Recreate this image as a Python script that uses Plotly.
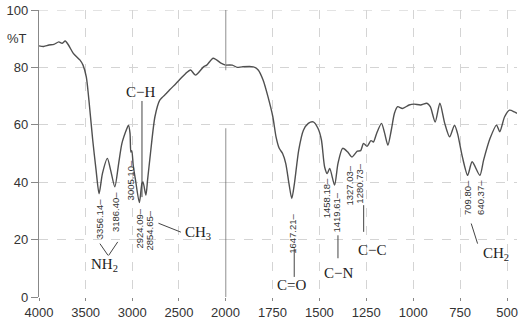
import plotly.graph_objects as go

# ---- data (wavenumber cm-1, transmittance %T) ----
wavenumber = [4000, 3950, 3893, 3840, 3788, 3753, 3719, 3684, 3632, 3562, 3528, 3493, 3458, 3424,
              3388, 3356, 3320, 3267, 3232, 3187, 3146, 3111, 3060, 3041, 3024, 3015, 3005, 2990,
              2965, 2924, 2896, 2885, 2854, 2836, 2809, 2757, 2705, 2635, 2601, 2531, 2479, 2427,
              2375, 2322, 2236, 2201, 2132, 2044, 2000,
              1964, 1938, 1912, 1852, 1826, 1800, 1774, 1748, 1731, 1714, 1696, 1679, 1662, 1647,
              1633, 1610, 1585, 1559, 1533, 1507, 1489, 1472, 1458, 1445, 1419, 1401, 1376, 1350,
              1327, 1298, 1280, 1265, 1246, 1225, 1212, 1195, 1169, 1152, 1135, 1117, 1100, 1083,
              1057, 1022, 996, 961, 927, 909, 883, 858, 832, 806, 780, 764, 738, 710, 686, 645,
              625, 591, 556, 539, 513, 487, 461, 447]
transmittance = [87.5, 87.3, 87.8, 88.0, 88.9, 88.4, 89.2, 87.8, 84.9, 82.6, 80.8, 76.7, 66.3, 54.7,
                 44.2, 36.0, 43.0, 48.3, 44.2, 38.4, 46.5, 53.5, 58.5, 59.9, 57.0, 50.5, 51.0, 46.0,
                 40.7, 32.9, 39.6, 40.1, 35.5, 40.7, 48.8, 62.8, 68.6, 70.9, 72.1, 74.4, 76.2, 77.9,
                 79.1, 77.3, 80.2, 80.8, 83.2, 81.4, 80.8,
                 80.8, 80.0, 80.2, 80.2, 79.1, 75.6, 69.8, 62.8, 55.8, 51.8, 50.0, 46.5, 39.5, 34.3,
                 39.5, 51.2, 58.1, 60.5, 61.0, 58.7, 54.7, 45.3, 43.0, 44.8, 39.0, 46.5, 51.8, 50.6,
                 48.8, 50.8, 51.0, 53.5, 52.5, 54.5, 54.0, 57.0, 60.5, 57.0, 52.9, 58.1, 64.0, 66.3,
                 65.7, 66.9, 67.2, 66.9, 67.5, 66.3, 61.0, 67.5, 60.5, 55.8, 59.9, 57.0, 48.8, 42.4,
                 47.1, 42.4, 47.7, 55.2, 59.9, 57.6, 62.8, 65.1, 64.5, 64.0]

left_ticks = [4000, 3500, 3000, 2500, 2000]
right_ticks = [1750, 1500, 1250, 1000, 750, 500]
y_ticks = [0, 20, 40, 60, 80, 100]

# peak labels: (text, wavenumber position, top %T)
peak_labels = [("3356.14", 3356, 34.8), ("3186.40", 3187, 37.2), ("3005.10", 3021, 48.4),
               ("2924.09", 2920, 31.4), ("2854.65", 2818, 30.9),
               ("1647.21", 1643, 29.5), ("1458.18", 1462, 41.9), ("1419.61", 1410, 37.2),
               ("1327.03", 1341, 46.6), ("1280.73", 1286, 47.0),
               ("709.80", 712, 41.4), ("640.37", 643, 41.4)]

# group labels: (text, wavenumber, %T)
group_labels = [("C\u2212H", 2913, 71.4), ("NH<sub>2</sub>", 3302, 11.1), ("CH<sub>3</sub>", 2292, 22.2),
                ("C=O", 1647, 4.1), ("C\u2212N", 1396, 8.4), ("C\u2212C", 1220, 16.3),
                ("CH<sub>2</sub>", 557, 15.1)]

# pointer lines: (wn0, T0, wn1, T1)
pointer_lines = [(2896, 68.3, 2896, 34.8),
                 (3347, 18.6, 3260, 14.5), (3156, 19.2, 3253, 14.5),
                 (2719, 25.7, 2479, 22.6),
                 (1634, 16.9, 1634, 7.0), (1401, 21.5, 1401, 13.5), (1264, 32.0, 1264, 22.7),
                 (691, 25.6, 657, 18.6)]

SPLIT = 2000
RIGHT_END = 447

def axref(w):
    return "x" if w > SPLIT else "x2"

left_w = [w for w in wavenumber if w >= SPLIT]
left_t = [t for w, t in zip(wavenumber, transmittance) if w >= SPLIT]
right_w = [w for w in wavenumber if w <= SPLIT]
right_t = [t for w, t in zip(wavenumber, transmittance) if w <= SPLIT]

line_style = dict(color="#505050", width=1.4, shape="spline", smoothing=0.7)
fig = go.Figure()
fig.add_trace(go.Scatter(x=left_w, y=left_t, mode="lines", line=line_style, xaxis="x", yaxis="y",
                         hoverinfo="skip"))
fig.add_trace(go.Scatter(x=right_w, y=right_t, mode="lines", line=line_style, xaxis="x2", yaxis="y",
                         hoverinfo="skip"))

split = (231 - 39) / 492
grid = dict(showgrid=True, gridcolor="#d4d4d4", griddash="dash", gridwidth=1)
tickfont = dict(family="Liberation Sans, Arial, sans-serif", size=13, color="#333333")

fig.update_layout(
    width=531, height=322,
    margin=dict(l=39, r=0, t=10, b=25),
    paper_bgcolor="white", plot_bgcolor="white",
    showlegend=False,
    xaxis=dict(domain=[0, split], range=[4000, SPLIT], tickvals=left_ticks, anchor="y",
               ticks="outside", ticklen=3, tickcolor="#888", tickfont=tickfont,
               zeroline=False, showline=False, **grid),
    xaxis2=dict(domain=[split, 1], range=[SPLIT, RIGHT_END], tickvals=right_ticks, anchor="y",
                ticks="outside", ticklen=3, tickcolor="#888", tickfont=tickfont,
                zeroline=False, showline=False, **grid),
    yaxis=dict(range=[0, 100], tickvals=y_ticks, ticks="outside", ticklen=7, tickcolor="#888",
               showline=True, linecolor="#888", linewidth=1.2, tickfont=tickfont,
               zeroline=False, **grid),
)

shapes = []
# dashed top border at 100 %T
shapes.append(dict(type="line", xref="paper", yref="y", x0=0, x1=1, y0=100, y1=100, layer="below",
                   line=dict(color="#c8c8c8", width=1, dash="dash")))
# divider at 2000 cm-1
shapes.append(dict(type="line", xref="x2", yref="y", x0=SPLIT, x1=SPLIT, y0=100, y1=79,
                   line=dict(color="#555", width=1.3)))
shapes.append(dict(type="line", xref="x2", yref="y", x0=SPLIT, x1=SPLIT, y0=58.8, y1=0,
                   line=dict(color="#555", width=1.3)))
for w0, t0, w1, t1 in pointer_lines:
    shapes.append(dict(type="line", xref=axref(w0), yref="y", x0=w0, x1=w1, y0=t0, y1=t1,
                       line=dict(color="#444", width=1)))
fig.update_layout(shapes=shapes)

annotations = []
for text, w, t in peak_labels:
    annotations.append(dict(text=text + "\u2013", x=w, y=t, xref=axref(w), yref="y",
                            showarrow=False, textangle=-90, xanchor="center", yanchor="top",
                            font=dict(family="Liberation Sans, Arial, sans-serif", size=9.5,
                                      color="#333")))
for text, w, t in group_labels:
    annotations.append(dict(text=text, x=w, y=t, xref=axref(w), yref="y", showarrow=False,
                            xanchor="center", yanchor="middle",
                            font=dict(family="Liberation Serif, Times New Roman, serif", size=15,
                                      color="#222")))
annotations.append(dict(text="%T", x=-0.047, y=90.2, xref="paper", yref="y", showarrow=False,
                        xanchor="center", yanchor="middle", font=tickfont))
fig.update_layout(annotations=annotations)

# remove the default page margin so the figure fills the 531x322 window exactly
fig.write_html("out.html", config={"displayModeBar": False},
               post_script="document.body.style.margin='0';document.body.style.overflow='hidden';")
